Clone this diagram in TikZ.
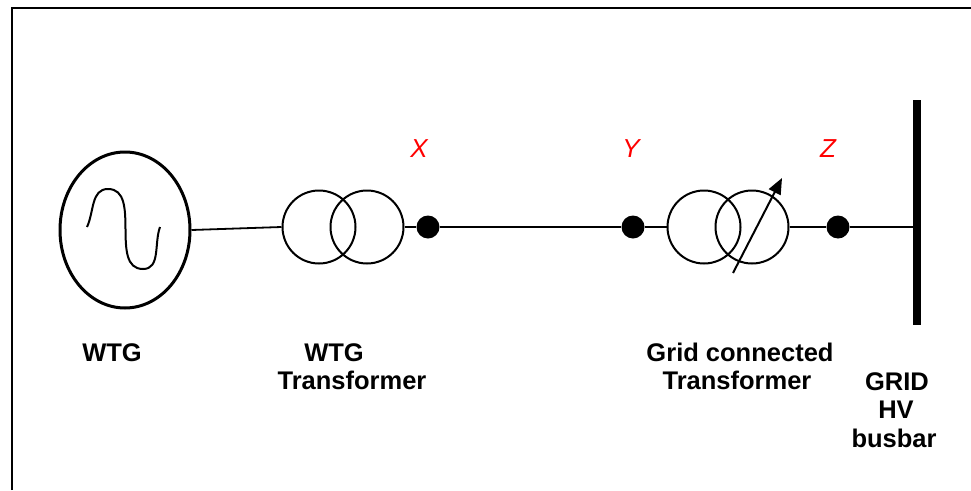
\documentclass[tikz,border=0pt]{standalone}
\usepackage{fontspec}
\setmainfont{Liberation Sans}
\usetikzlibrary{shapes.geometric,arrows.meta}

\tikzset{
  trafo/.style={draw, circle, line width=2, minimum size=73, inner sep=0},
  busdot/.style={circle, fill=black, minimum size=23, inner sep=0},
  unitname/.style={font=\fontsize{25.5}{28}\selectfont\bfseries, anchor=base, inner sep=0},
  pointname/.style={font=\fontsize{26}{28}\selectfont\itshape, text=red, anchor=base, inner sep=0}
}

\begin{document}
\begin{tikzpicture}[x=1pt, y=-1pt]
    \useasboundingbox (0,0) rectangle (971,490);
    \draw[line width=2.5] (12,490) -- (12,8) -- (971,8); % frame

    %generator
    \node[draw, ellipse, line width=3, minimum width=130, minimum height=156, inner sep=0] (wtg) at (125,230) {};
    \draw[line width=2] (87,227) to[out=65,in=180] (108,189) to[out=0,in=180] (143,269) to[out=0,in=250] (160,227);

    %transformers
    \node[trafo] (t1a) at (319,227) {};
    \node[trafo] (t1b) at (367,227) {};
    \node[trafo] (t2a) at (704,227) {};
    \node[trafo] (t2b) at (752,227) {};
    \coordinate (tap0) at (733,273);
    \coordinate (tap1) at (782,178);
    \draw[line width=2, -{Triangle[length=16,width=13]}] (tap0) -- (tap1);

    %busbar and points
    \node[fill=black, minimum width=8, minimum height=225, inner sep=0] (bus) at (917,212.5) {};
    \node[busdot] (x) at (428,227) {};
    \node[busdot] (y) at (633,227) {};
    \node[busdot] (z) at (838,227) {};

    %lines
    \draw[line width=1.8] (wtg.east) -- (t1a.west);
    \draw[line width=1.8] (t1b.east) -- (x) -- (y) -- (t2a.west);
    \draw[line width=1.8] (t2b.east) -- (z) -- (z -| bus.west);

    \node[pointname] (lx) at (419,157) {X};
    \node[pointname] (ly) at (631,157) {Y};
    \node[pointname] (lz) at (828,157) {Z};

    \node[unitname] (nwtg) at (112,361) {WTG};
    \node[unitname] (nt1a) at (334,361) {WTG};
    \node[unitname] (nt1b) at (352,389) {Transformer};
    \node[unitname] (nt2a) at (740,361) {Grid connected};
    \node[unitname] (nt2b) at (737,389) {Transformer};
    \node[unitname] (ngrid) at (897,390) {GRID};
    \node[unitname] (nhv) at (896,418) {HV};
    \node[unitname] (nbus) at (894,447) {busbar};
\end{tikzpicture}
\end{document}
